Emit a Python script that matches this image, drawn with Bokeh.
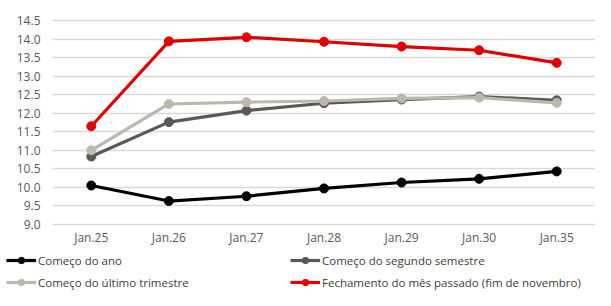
from bokeh.plotting import figure
from bokeh.layouts import column
from bokeh.models import Range1d, Legend, LegendItem, SingleIntervalTicker, NumeralTickFormatter
from bokeh.embed import file_html
from bokeh.resources import INLINE

categories = ["Jan.25", "Jan.26", "Jan.27", "Jan.28", "Jan.29", "Jan.30", "Jan.35"]
inicio_ano = [10.05, 9.63, 9.76, 9.97, 10.13, 10.23, 10.43]
segundo_semestre = [10.83, 11.76, 12.07, 12.27, 12.37, 12.45, 12.35]
ultimo_trimestre = [11.0, 12.25, 12.3, 12.33, 12.4, 12.42, 12.28]
fechamento = [11.65, 13.94, 14.05, 13.93, 13.8, 13.7, 13.36]

series = [
    ("Começo do ano", inicio_ano, "#000000"),
    ("Começo do segundo semestre", segundo_semestre, "#595959"),
    ("Começo do último trimestre", ultimo_trimestre, "#bdb8ad"),
    ("Fechamento do mês passado (fim de novembro)", fechamento, "#e00000"),
]

FONT = "Open Sans"

p = figure(width=595, height=248, x_range=categories, y_range=Range1d(8.97, 14.53),
           output_backend="svg", toolbar_location=None,
           min_border_left=52, min_border_right=0, min_border_top=19, min_border_bottom=22)
p.outline_line_color = None
p.background_fill_color = "white"
p.border_fill_color = "white"

p.xgrid.grid_line_color = None
p.ygrid.grid_line_color = "#d9d9d9"
p.ygrid.grid_line_width = 1.3

for ax in (p.xaxis[0], p.yaxis[0]):
    ax.axis_line_color = None
    ax.major_tick_line_color = None
    ax.minor_tick_line_color = None
    ax.major_tick_out = 0
    ax.major_tick_in = 0
    ax.minor_tick_out = 0
    ax.major_label_text_font = FONT
    ax.major_label_text_font_size = "12px"
    ax.major_label_text_color = "#595959"

p.yaxis[0].ticker = SingleIntervalTicker(interval=0.5)
p.yaxis[0].formatter = NumeralTickFormatter(format="0.0")
p.yaxis[0].major_label_standoff = 12
p.xaxis[0].major_label_standoff = 3

# legend figure
p2 = figure(width=595, height=42, x_range=Range1d(0, 1), y_range=Range1d(0, 1),
            output_backend="svg", toolbar_location=None,
            x_axis_location=None, y_axis_location=None,
            min_border_left=0, min_border_right=0, min_border_top=0, min_border_bottom=0)
p2.outline_line_color = None
p2.grid.visible = False

items = []
for label, vals, color in series:
    r1 = p.line(categories, vals, line_color=color, line_width=3.2)
    r2 = p.scatter(categories, vals, size=9, fill_color=color, line_color=color)
    l1 = p2.line(x=[5], y=[5], line_color=color, line_width=3.2)
    l2 = p2.scatter(x=[5], y=[5], size=8, fill_color=color, line_color=color)
    items.append(LegendItem(label=label, renderers=[l1, l2]))

common = dict(orientation="vertical", glyph_width=30, glyph_height=16, label_standoff=2,
              label_height=16, spacing=6, padding=0, margin=0,
              border_line_color=None, background_fill_alpha=0,
              label_text_font=FONT, label_text_font_size="11.5px",
              label_text_color="#404040")
leg1 = Legend(items=[items[0], items[2]], location=(6, 0), **common)
leg2 = Legend(items=[items[1], items[3]], location=(290, 0), **common)
p2.add_layout(leg1, "center")
p2.add_layout(leg2, "center")

layout = column(p, column(p2, spacing=0), spacing=0)
open("out.html", "w").write(file_html(layout, INLINE))
